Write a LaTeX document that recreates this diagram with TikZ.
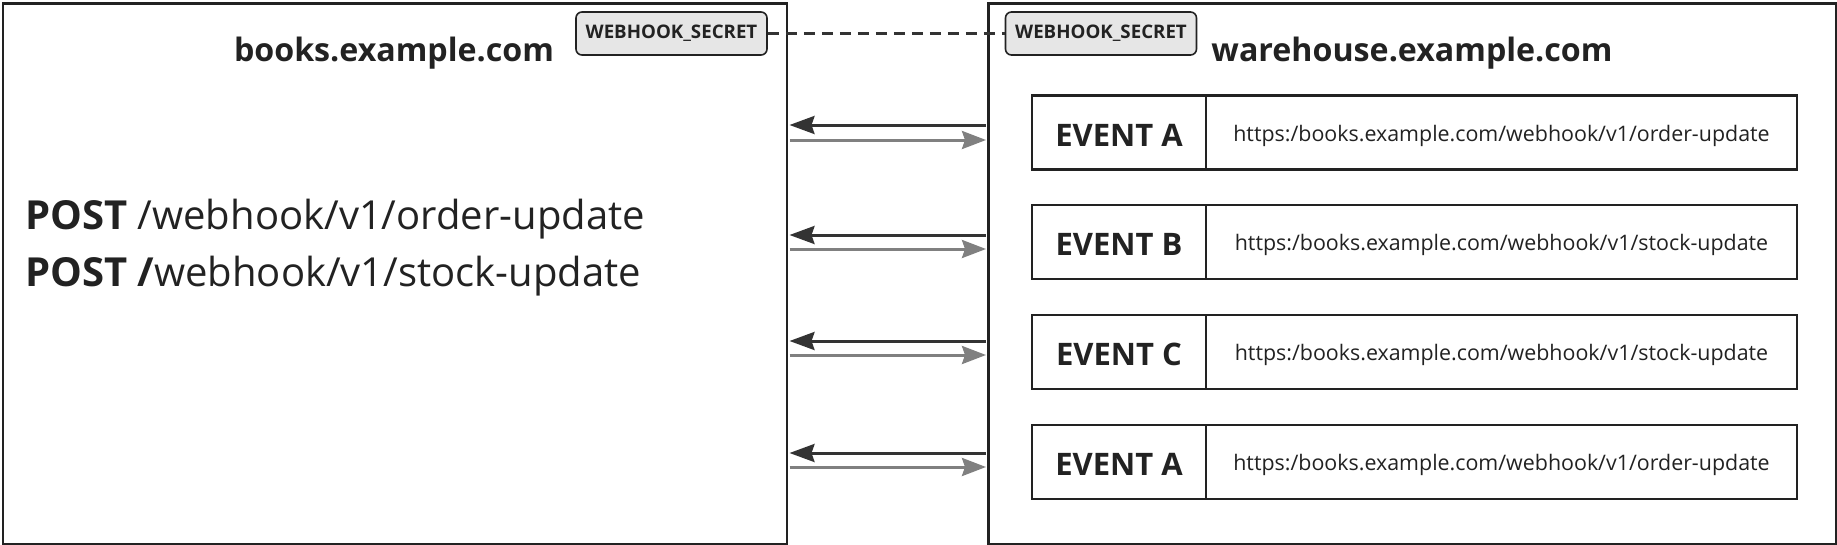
\documentclass[tikz,border=0pt]{standalone}
\usepackage{fontspec}
\setmainfont{Open Sans}
\usetikzlibrary{arrows.meta}
\definecolor{edge}{HTML}{222222}
\definecolor{darkarr}{HTML}{333333}
\definecolor{grayarr}{HTML}{808080}
\definecolor{secretfill}{HTML}{E6E6E6}
\tikzset{
  hostbox/.style={draw=edge, line width=2.5pt, minimum width=#1, minimum height=541pt, anchor=north west, inner sep=0pt},
  hosttitle/.style={font=\bfseries\fontsize{32.2}{36}\selectfont, text=edge, anchor=base, inner sep=0pt},
  secret/.style={draw=edge, fill=secretfill, rounded corners=6pt, line width=1.6pt, minimum width=191pt, minimum height=43pt, inner sep=0pt, font=\bfseries\fontsize{18.7}{20}\selectfont, text=edge},
  evlabel/.style={draw=edge, line width=2.5pt, minimum width=174pt, minimum height=74pt, inner sep=0pt, text height=27pt, text depth=0pt, font=\bfseries\fontsize{31}{34}\selectfont, text=edge},
  evurl/.style={draw=edge, line width=2.5pt, minimum width=591pt, minimum height=74pt, inner sep=0pt, text height=17pt, text depth=0pt, font=\fontsize{21.4}{24}\selectfont, text=edge},
  darkflow/.style={draw=darkarr, line width=3pt, -{Stealth[length=25pt, width=18pt, inset=3pt]}},
  grayflow/.style={draw=grayarr, line width=3pt, -{Stealth[length=24pt, width=18pt, inset=3pt]}},
  linkline/.style={draw=darkarr, line width=2.2pt, dash pattern=on 11pt off 7pt},
  posttext/.style={font=\fontsize{40}{56}\selectfont, text=edge, anchor=base west, inner sep=0pt}
}
\begin{document}
\begin{tikzpicture}[x=1pt, y=-1pt]
\useasboundingbox (0,0) rectangle (1837,544);
\fill[white] (0,0) rectangle (1837,544);
% host boxes
\node[hostbox=784pt] (books) at (1.5,2) {};
\node[hostbox=848pt] (warehouse) at (987,2) {};
% titles
\node[hosttitle] (bookstitle) at (394,61) {books.example.com};
\node[hosttitle] (warehousetitle) at (1412,61) {warehouse.example.com};
% secrets
\node[secret] (secretA) at (671.5,33.5) {WEBHOOK\_SECRET};
\node[secret] (secretB) at (1101,33.5) {WEBHOOK\_SECRET};
\draw[linkline] (secretA.east) -- (secretB.west);
% POST lines
\node[posttext] (post1) at (25,229) {\textbf{POST} /webhook/v1/order-update};
\node[posttext] (post2) at (25,286) {\textbf{POST /}webhook/v1/stock-update};
% events
\node[evlabel] (ev1) at (1119,132.5) {EVENT A};
\node[evurl] (url1) at (1501.5,132.5) {https:/books.example.com/webhook/v1/order-update};
\node[evlabel] (ev2) at (1119,242) {EVENT B};
\node[evurl] (url2) at (1501.5,242) {https:/books.example.com/webhook/v1/stock-update};
\node[evlabel] (ev3) at (1119,352) {EVENT C};
\node[evurl] (url3) at (1501.5,352) {https:/books.example.com/webhook/v1/stock-update};
\node[evlabel] (ev4) at (1119,462) {EVENT A};
\node[evurl] (url4) at (1501.5,462) {https:/books.example.com/webhook/v1/order-update};
% flows
\draw[darkflow] ([xshift=-1pt]warehouse.west |- 0,125) -- ([xshift=1.5pt]books.east |- 0,125);
\draw[grayflow] ([xshift=1.5pt]books.east |- 0,140) -- ([xshift=-1pt]warehouse.west |- 0,140);
\draw[darkflow] ([xshift=-1pt]warehouse.west |- 0,235) -- ([xshift=1.5pt]books.east |- 0,235);
\draw[grayflow] ([xshift=1.5pt]books.east |- 0,249) -- ([xshift=-1pt]warehouse.west |- 0,249);
\draw[darkflow] ([xshift=-1pt]warehouse.west |- 0,341) -- ([xshift=1.5pt]books.east |- 0,341);
\draw[grayflow] ([xshift=1.5pt]books.east |- 0,355) -- ([xshift=-1pt]warehouse.west |- 0,355);
\draw[darkflow] ([xshift=-1pt]warehouse.west |- 0,453) -- ([xshift=1.5pt]books.east |- 0,453);
\draw[grayflow] ([xshift=1.5pt]books.east |- 0,467) -- ([xshift=-1pt]warehouse.west |- 0,467);
\end{tikzpicture}
\end{document}
